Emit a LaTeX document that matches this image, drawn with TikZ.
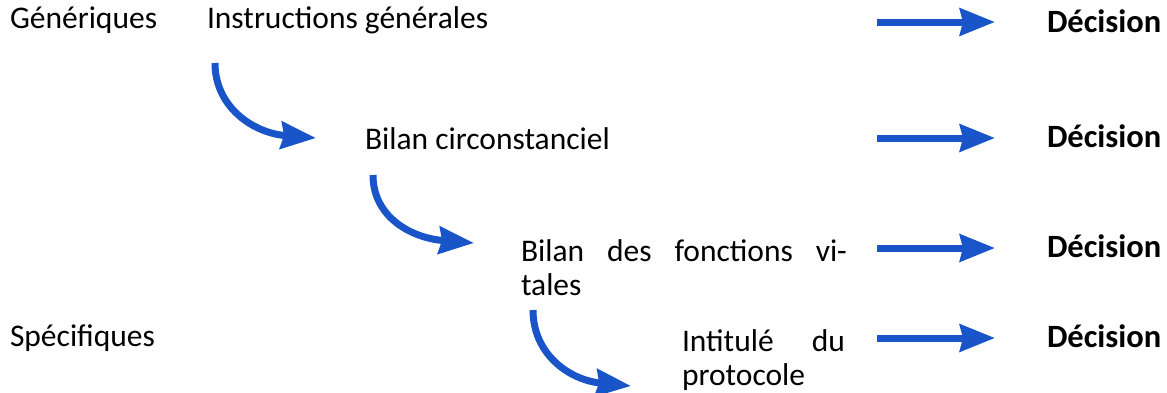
\documentclass[tikz,border=0pt]{standalone}
\usepackage{fontspec}
\setmainfont{Carlito}
\usetikzlibrary{arrows.meta,calc}
\definecolor{arrowblue}{RGB}{25,85,200}
\begin{document}
\begin{tikzpicture}[x=1pt,y=-1pt,
  lbl/.style={inner sep=0pt, outer sep=0pt, anchor=base west, font=\fontsize{31.5}{34}\selectfont},
  dec/.style={lbl, font=\fontsize{32.5}{34}\selectfont\bfseries},
  flow/.style={draw=arrowblue, line width=7pt, -{Stealth[length=35pt,width=27pt,inset=3pt]}},
  ]
\useasboundingbox (0,0) rectangle (1167,392);
% left column
\node[lbl] (gen) at (10,28) {Génériques};
\node[lbl] (spe) at (10,346) {Spécifiques};
% steps
\node[lbl] (instr) at (207,28) {Instructions générales};
\node[lbl] (bilc) at (365,149) {Bilan circonstanciel};
\node[lbl, text width=326pt, align=left] (bilv) at (521,261) {Bilan\hfill des\hfill fonctions\hfill vi-\\tales};
\node[lbl, text width=163pt, align=left] (prot) at (682,351) {Intitulé\hfill du\\protocole};
% decisions
\node[dec] (d1) at (1047,32) {Décision};
\node[dec] (d2) at (1047,147) {Décision};
\node[dec] (d3) at (1047,257) {Décision};
\node[dec] (d4) at (1047,347) {Décision};
% straight arrows
\coordinate (a1s) at (877,22);  \coordinate (a1e) at (995,22);
\coordinate (a2s) at (877,138); \coordinate (a2e) at (995,138);
\coordinate (a3s) at (877,248); \coordinate (a3e) at (995,248);
\coordinate (a4s) at (877,338); \coordinate (a4e) at (995,338);
\draw[flow] (a1s) -- (a1e);
\draw[flow] (a2s) -- (a2e);
\draw[flow] (a3s) -- (a3e);
\draw[flow] (a4s) -- (a4e);
% curved arrows
\coordinate (c1s) at (215,63);  \coordinate (c1e) at (316,138);
\coordinate (c2s) at (373,175); \coordinate (c2e) at (474,243);
\coordinate (c3s) at (533,310); \coordinate (c3e) at (631,386);
\draw[flow] (c1s) .. controls ($(c1s)+(0,44)$) and ($(c1s)+(38,70)$) .. (c1e);
\draw[flow] (c2s) .. controls ($(c2s)+(0,42)$) and ($(c2s)+(38,63)$) .. (c2e);
\draw[flow] (c3s) .. controls ($(c3s)+(0,44)$) and ($(c3s)+(36,70)$) .. (c3e);
\end{tikzpicture}
\end{document}
